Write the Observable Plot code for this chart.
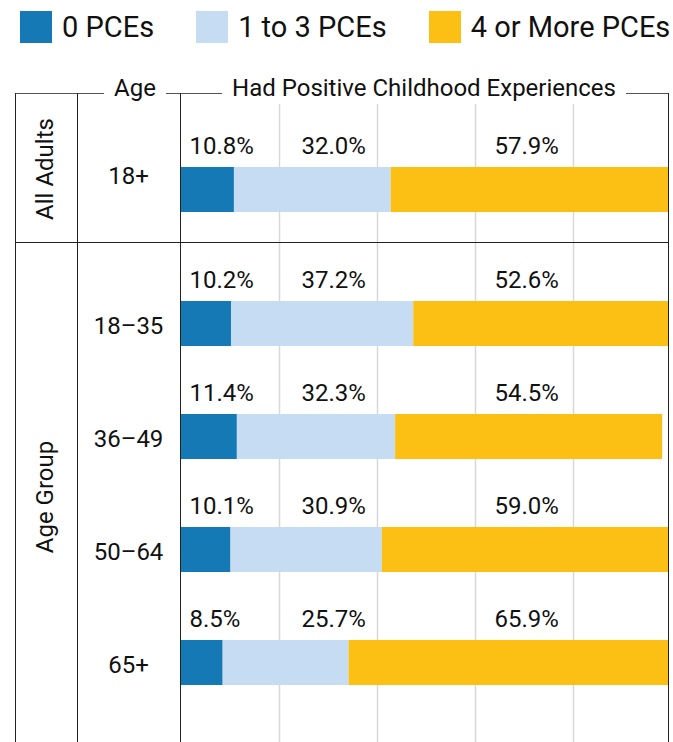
<!DOCTYPE html>
<html>
<head>
<meta charset="utf-8">
<script src="https://cdn.jsdelivr.net/npm/d3@7"></script>
<script src="https://cdn.jsdelivr.net/npm/@observablehq/plot@0.6"></script>
<style>
  html, body { margin: 0; padding: 0; background: #fff; }
  body { font-family: Roboto, "Noto Sans", sans-serif; color: #111; }
  #root { position: relative; width: 673px; height: 742px; overflow: hidden; background: #fff; }
  #legend { position: absolute; left: 20px; top: 11px; display: flex; gap: 42px; font-size: 29px; line-height: 32px; }
  .item { display: flex; align-items: center; white-space: nowrap; }
  .sw { width: 32px; height: 32px; margin-right: 10px; }
  .sec { position: absolute; left: 0; }
  .hl { position: absolute; height: 0; }
  .vl { position: absolute; width: 0; }
  .hdr { position: absolute; font-size: 24px; line-height: 24px; background: #fff; padding: 0 10px; transform: translateX(-50%); white-space: nowrap; }
  .rot { position: absolute; font-size: 24px; line-height: 24px; white-space: nowrap; transform: translate(-50%, -50%) rotate(-90deg); }
</style>
</head>
<body>
<div id="root"></div>
<script>
// ---- data ----
const series = ["0 PCEs", "1 to 3 PCEs", "4 or More PCEs"];
const colors = ["#1479b5", "#c6dcf2", "#fcbf13"];
const allAdultsAges = ["18+"];
const groupAges = ["18–35", "36–49", "50–64", "65+"];
const pce0 = [10.8, 10.2, 11.4, 10.1, 8.5];
const pce1to3 = [32.0, 37.2, 32.3, 30.9, 25.7];
const pce4plus = [57.9, 52.6, 54.5, 59.0, 65.9];
const gridTicks = [20, 40, 60, 80];
const sectionLabels = ["All Adults", "Age Group"];
const headerAge = "Age";
const headerMain = "Had Positive Childhood Experiences";

// ---- build tidy table ----
const ages = [...allAdultsAges, ...groupAges];
const valuesBySeries = [pce0, pce1to3, pce4plus];
const rows = ages.flatMap((age, i) =>
  series.map((s, j) => ({age, series: s, value: valuesBySeries[j][i]}))
);

const root = document.getElementById("root");

// ---- legend ----
const legend = document.createElement("div");
legend.id = "legend";
series.forEach((s, i) => {
  const it = document.createElement("div");
  it.className = "item";
  const sw = document.createElement("div");
  sw.className = "sw";
  sw.style.background = colors[i];
  it.appendChild(sw);
  it.appendChild(document.createTextNode(s));
  legend.appendChild(it);
});
root.appendChild(legend);

// ---- plots ----
const W = 673;
const labelOffsets = [8, 120, 313];
function section(agesIn, top, height, marginTop, yRange, ageDy) {
  const data = rows.filter(d => agesIn.includes(d.age));
  const marks = [
    Plot.ruleX(gridTicks, {stroke: "#d8d8d8", strokeWidth: 1.5}),
    Plot.barX(data, {x: "value", y: "age", fill: "series", insetTop: 34, insetBottom: 34, clip: true}),
    Plot.text(agesIn, {y: d => d, text: d => d, frameAnchor: "left", dx: -53, dy: ageDy, textAnchor: "middle", fontSize: 24, fill: "#111"})
  ];
  series.forEach((s, j) => {
    marks.push(Plot.text(data.filter(d => d.series === s), {
      y: "age", text: d => d.value.toFixed(1) + "%",
      frameAnchor: "left", textAnchor: "start", lineAnchor: "bottom",
      dx: labelOffsets[j], dy: -36.5, fontSize: 24, fill: "#111"
    }));
  });
  const svg = Plot.plot({
    width: W, height,
    marginLeft: 181, marginRight: 5, marginTop, marginBottom: 0,
    x: {domain: [0, 100], range: [181, 671], axis: null},
    y: {domain: agesIn, range: yRange, padding: 0, axis: null},
    color: {domain: series, range: colors},
    style: {fontFamily: "Roboto, sans-serif", fontSize: "24px", background: "transparent", overflow: "visible", color: "#111"},
    marks
  });
  const wrap = document.createElement("div");
  wrap.className = "sec";
  wrap.style.top = top + "px";
  wrap.appendChild(svg);
  root.appendChild(wrap);
}
section(allAdultsAges, 93, 149, 11, [40, 153], -14);
section(groupAges, 242, 500, 0, [25, 477], 2);

// ---- table lines ----
function hline(x, y, w, color, sw) {
  const d = document.createElement("div");
  d.className = "hl";
  d.style.left = x + "px"; d.style.top = y + "px"; d.style.width = w + "px";
  d.style.borderTop = sw + "px solid " + color;
  root.appendChild(d);
}
function vline(x, y, h, color, sw) {
  const d = document.createElement("div");
  d.className = "vl";
  d.style.left = x + "px"; d.style.top = y + "px"; d.style.height = h + "px";
  d.style.borderLeft = sw + "px solid " + color;
  root.appendChild(d);
}
hline(15, 92.5, 654, "#555", 1.5);
hline(15, 241.5, 654, "#222", 1.2);
[15, 77, 179.5, 668].forEach(x => vline(x, 93, 660, "#222", 1.2));

// ---- header texts ----
function hdr(text, cx) {
  const d = document.createElement("div");
  d.className = "hdr";
  d.style.left = cx + "px"; d.style.top = "76px";
  d.textContent = text;
  root.appendChild(d);
}
hdr(headerAge, 135);
hdr(headerMain, 424);

// ---- rotated section labels ----
function rot(text, cx, cy) {
  const d = document.createElement("div");
  d.className = "rot";
  d.style.left = cx + "px"; d.style.top = cy + "px";
  d.textContent = text;
  root.appendChild(d);
}
rot(sectionLabels[0], 45, 169);
rot(sectionLabels[1], 45, 497);
</script>
</body>
</html>
